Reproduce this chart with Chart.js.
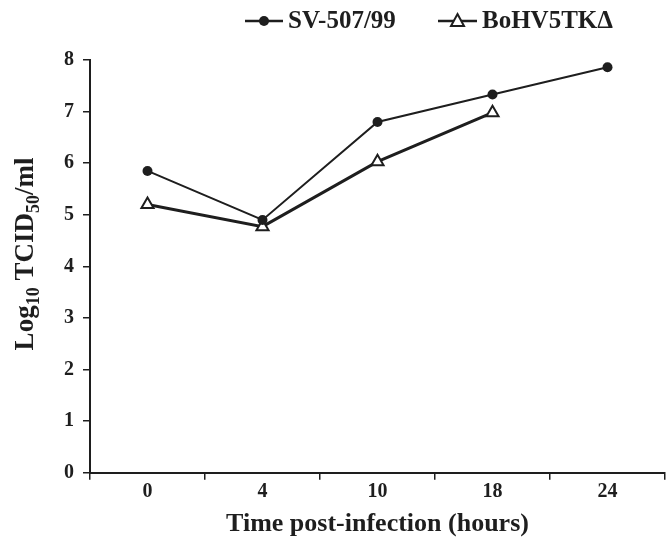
<!DOCTYPE html>
<html>
<head>
<meta charset="utf-8">
<script src="https://cdn.jsdelivr.net/npm/chart.js@4/dist/chart.umd.min.js"></script>
<style>
  html, body { margin: 0; padding: 0; background: #fff; overflow: hidden; }
  #wrap { width: 674px; height: 544px; }
</style>
</head>
<body>
<div id="wrap"><canvas id="my-chart"></canvas></div>
<script>
const categories = ["0", "4", "10", "18", "24"];
const svValues = [5.85, 4.9, 6.8, 7.33, 7.86];
const tkValues = [5.2, 4.77, 6.03, 6.98, null];
const seriesNames = ["SV-507/99", "BoHV5TK\u0394"];
const yMin = 0;
const yMax = 8;

const ink = "#1e1e1e";
const serif = "'Liberation Serif', 'Times New Roman', serif";

/* legend + y title drawn by hand (line + marker + subscripts) */
const extras = {
  id: "extras",
  afterDraw(chart) {
    const ctx = chart.ctx;
    ctx.save();
    ctx.fillStyle = ink;
    ctx.strokeStyle = ink;

    // legend
    ctx.font = "bold 25px " + serif;
    ctx.textBaseline = "middle";
    ctx.textAlign = "left";
    const ly = 21;
    // SV
    ctx.lineWidth = 2.5;
    ctx.beginPath(); ctx.moveTo(245, ly); ctx.lineTo(283, ly); ctx.stroke();
    ctx.beginPath(); ctx.arc(264, ly, 5, 0, Math.PI * 2); ctx.fill();
    ctx.fillText(seriesNames[0], 288, ly + 1);
    // TK
    ctx.beginPath(); ctx.moveTo(438, ly); ctx.lineTo(477, ly); ctx.stroke();
    ctx.fillStyle = "#fff";
    ctx.lineWidth = 2;
    ctx.beginPath();
    ctx.moveTo(457.5, ly - 7); ctx.lineTo(464, ly + 5); ctx.lineTo(451, ly + 5); ctx.closePath();
    ctx.fill(); ctx.stroke();
    ctx.fillStyle = ink;
    ctx.fillText(seriesNames[1], 482, ly + 1);

    // y title with subscripts
    ctx.translate(33, 254);
    ctx.rotate(-Math.PI / 2);
    ctx.textBaseline = "alphabetic";
    const big = "bold 27px " + serif;
    const small = "bold 18px " + serif;
    const parts = [["Log", big, 0], ["10", small, 6], [" TCID", big, 0], ["50", small, 6], ["/ml", big, 0]];
    let total = 0;
    parts.forEach(p => { ctx.font = p[1]; total += ctx.measureText(p[0]).width; });
    let x = -total / 2;
    parts.forEach(p => {
      ctx.font = p[1];
      ctx.fillText(p[0], x, p[2]);
      x += ctx.measureText(p[0]).width;
    });
    ctx.restore();
  }
};

new Chart(document.getElementById("my-chart"), {
  type: "line",
  data: {
    labels: categories,
    datasets: [
      {
        label: seriesNames[0],
        data: svValues,
        borderColor: ink,
        backgroundColor: ink,
        borderWidth: 2,
        pointStyle: "circle",
        pointRadius: 5,
        pointBackgroundColor: ink,
        pointBorderWidth: 0,
        tension: 0
      },
      {
        label: seriesNames[1],
        data: tkValues,
        borderColor: ink,
        backgroundColor: "#fff",
        borderWidth: 3,
        pointStyle: "triangle",
        pointRadius: 7,
        pointBackgroundColor: "#fff",
        pointBorderColor: ink,
        pointBorderWidth: 2,
        tension: 0
      }
    ]
  },
  options: {
    responsive: true,
    maintainAspectRatio: false,
    animation: false,
    layout: { padding: { left: 0, right: 0, top: 60, bottom: 4 } },
    plugins: {
      legend: { display: false },
      tooltip: { enabled: false }
    },
    scales: {
      x: {
        type: "category",
        offset: true,
        grid: { offset: true, drawOnChartArea: false, drawTicks: true, tickLength: 7, color: ink, lineWidth: 1.5 },
        border: { color: ink, width: 2 },
        ticks: { color: ink, font: { family: serif, size: 20, weight: "bold" }, padding: 0, maxRotation: 0 },
        title: { display: true, text: "Time post-infection (hours)", color: ink, font: { family: serif, size: 26, weight: "bold" }, padding: { top: 5, bottom: 0 } }
      },
      y: {
        min: yMin,
        max: yMax,
        afterFit(scale) { scale.width = 90; },
        grid: { drawOnChartArea: false, drawTicks: true, tickLength: 7, color: ink, lineWidth: 1.5 },
        border: { color: ink, width: 2 },
        ticks: { stepSize: 1, color: ink, font: { family: serif, size: 20, weight: "bold" }, padding: 9 }
      }
    }
  },
  plugins: [extras]
});
</script>
</body>
</html>
